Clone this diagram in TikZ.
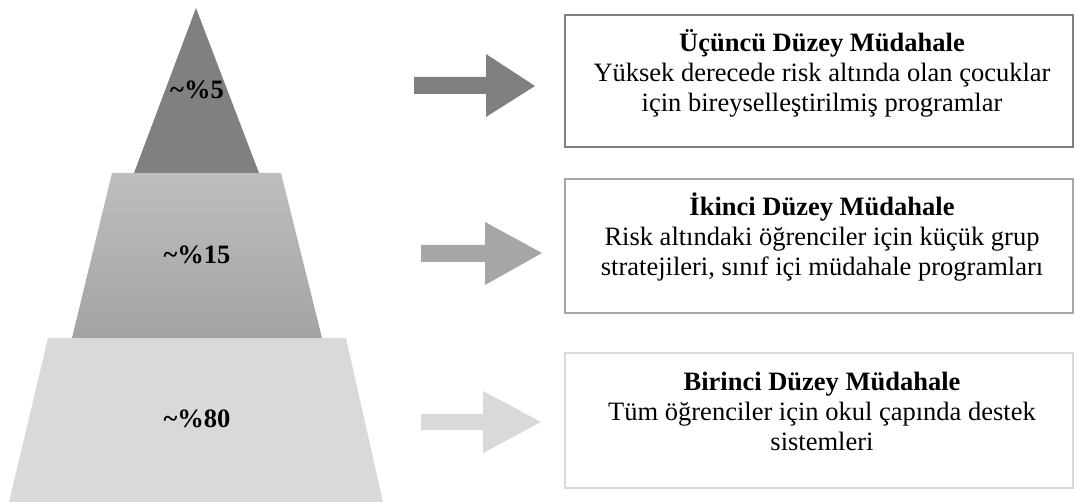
\documentclass[tikz,border=0pt]{standalone}
\usepackage{fontspec}
\setmainfont{Liberation Serif}
\definecolor{tierA}{HTML}{808080}
\definecolor{tierBtop}{HTML}{BEBEBE}
\definecolor{tierBbot}{HTML}{A3A3A3}
\definecolor{tierB}{HTML}{A6A6A6}
\definecolor{tierC}{HTML}{D9D9D9}
\tikzset{
  pct/.style={font=\fontsize{26.5}{30}\selectfont\bfseries, text=black},
  infobox/.style={draw=#1, line width=2pt, fill=white},
  infotext/.style={align=center, font=\fontsize{26.5}{30}\selectfont, text=black},
  fatarrow/.style={fill=#1, draw=none},
}
\begin{document}
\begin{tikzpicture}[x=1pt, y=-1pt]
\useasboundingbox (0,0) rectangle (1074,502);

% pyramid tiers
\fill[tierC] (48,338) -- (346,338) -- (383,502) -- (9,502) -- cycle;
\shade[top color=tierBtop, bottom color=tierBbot] (112,173) -- (281,173) -- (322,338) -- (72,338) -- cycle;
\fill[tierA] (196,8) -- (259,173) -- (134,173) -- cycle;

\node[pct] (p5) at (197,90) {\char"7E\%5};
\node[pct] (p15) at (197,255) {\char"7E\%15};
\node[pct] (p80) at (197,419) {\char"7E\%80};

% block arrows
\fill[fatarrow=tierA] (414,77) -- (486,77) -- (486,54) -- (535,86) -- (486,117) -- (486,94) -- (414,94) -- cycle;
\fill[fatarrow=tierB] (421,245) -- (485,245) -- (485,222) -- (542,253) -- (485,285) -- (485,262) -- (421,262) -- cycle;
\fill[fatarrow=tierC] (421,414) -- (483,414) -- (483,391) -- (541,422) -- (483,453) -- (483,430) -- (421,430) -- cycle;

% intervention boxes
\draw[infobox=tierA] (565,15) rectangle (1073,147);
\draw[infobox=tierB] (565,179) rectangle (1073,313);
\draw[infobox=tierC] (565,353) rectangle (1073,488);

\node[infotext] (t3) at (822,73) {\textbf{Üçüncü Düzey Müdahale}\\Yüksek derecede risk altında olan çocuklar\\için bireyselleştirilmiş programlar};
\node[infotext] (t2) at (822,237) {\textbf{İkinci Düzey Müdahale}\\Risk altındaki öğrenciler için küçük grup\\stratejileri, sınıf içi müdahale programları};
\node[infotext] (t1) at (822,411) {\textbf{Birinci Düzey Müdahale}\\Tüm öğrenciler için okul çapında destek\\sistemleri};
\end{tikzpicture}
\end{document}
